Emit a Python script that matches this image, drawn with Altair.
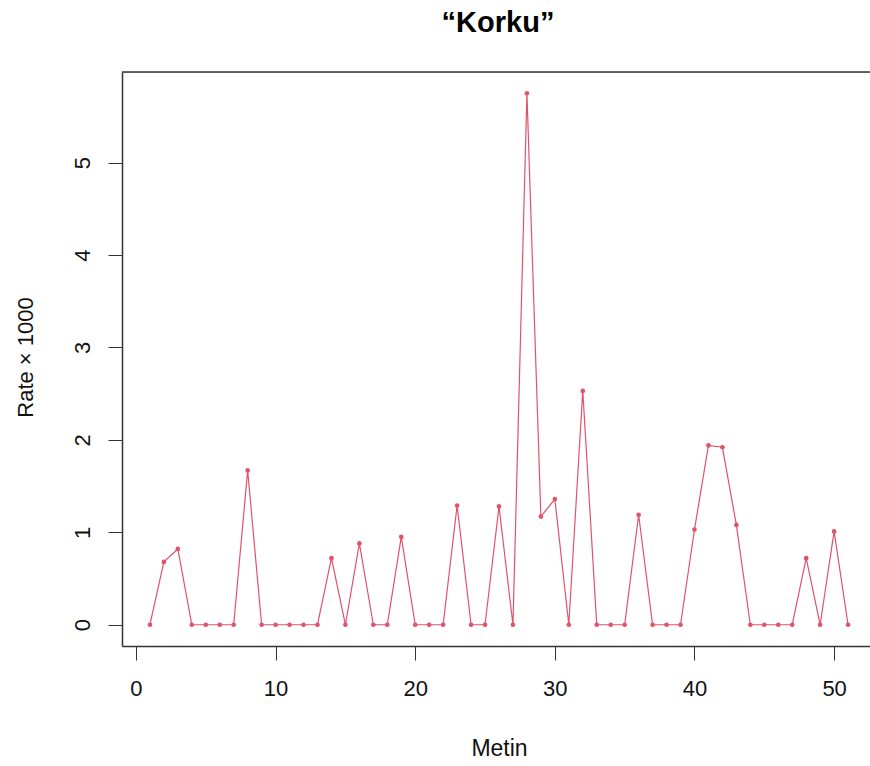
import altair as alt
import pandas as pd

# Data
metin = list(range(1, 52))
rate = [0, 0.68, 0.82, 0, 0, 0, 0, 1.67, 0, 0,
        0, 0, 0, 0.72, 0, 0.88, 0, 0, 0.95, 0,
        0, 0, 1.29, 0, 0, 1.28, 0, 5.75, 1.17, 1.36,
        0, 2.53, 0, 0, 0, 1.19, 0, 0, 0, 1.03,
        1.94, 1.92, 1.08, 0, 0, 0, 0, 0.72, 0, 1.01,
        0]
x_ticks = [0, 10, 20, 30, 40, 50]
y_ticks = [0, 1, 2, 3, 4, 5]

df = pd.DataFrame({"Metin": metin, "Rate": rate})

COLOR = "#DF536B"
AXC = "#333333"
FONT = "Liberation Sans"

W, H = 748, 574

xscale = alt.Scale(domain=[-1, 52.57], nice=False, zero=False)
yscale = alt.Scale(domain=[-0.23, 5.98], nice=False, zero=False)

xaxis = alt.Axis(
    values=x_ticks, title="Metin", grid=False, format="d",
    tickSize=14, tickColor=AXC, tickWidth=1,
    domainColor=AXC, domainWidth=1.5,
    labelFontSize=22, labelFont=FONT, labelColor="#111111",
    labelPadding=18, labelBaseline="top",
    titleFontSize=23, titleFont=FONT, titleFontWeight="normal", titleColor="#111111",
    titleX=377, titleY=109, titleBaseline="alphabetic", titleAlign="center",
)
yaxis = alt.Axis(
    values=y_ticks, title="Rate × 1000", grid=False, format="d",
    tickSize=14, tickColor=AXC, tickWidth=1,
    domainColor=AXC, domainWidth=1.5,
    labelFontSize=22, labelFont=FONT, labelColor="#111111",
    labelAngle=270, labelAlign="center", labelBaseline="alphabetic", labelPadding=19,
    titleFontSize=22, titleFont=FONT, titleFontWeight="normal", titleColor="#111111",
    titleAngle=270, titleX=-90, titleY=285, titleAlign="center", titleBaseline="alphabetic",
)

base = alt.Chart(df)
line = base.mark_line(color=COLOR, strokeWidth=1.2).encode(
    x=alt.X("Metin:Q", scale=xscale, axis=xaxis),
    y=alt.Y("Rate:Q", scale=yscale, axis=yaxis),
)
pts = base.mark_circle(color=COLOR, size=22, opacity=1).encode(
    x=alt.X("Metin:Q", scale=xscale),
    y=alt.Y("Rate:Q", scale=yscale),
)
top_border = alt.Chart(pd.DataFrame({"a": [0]})).mark_rule(
    color=AXC, strokeWidth=1.5
).encode(x=alt.value(0), x2=alt.value(W), y=alt.value(0))

chart = alt.layer(line, pts, top_border).properties(
    width=W, height=H,
    title=alt.TitleParams(
        text="“Korku”", font=FONT, fontSize=29, fontWeight="bold",
        color="#000000", anchor="middle", offset=10, baseline="alphabetic", dx=2,
    ),
    autosize=alt.AutoSizeParams(type="none"),
    padding={"left": 122, "top": 72, "right": 0, "bottom": 120},
).configure_view(stroke=None).configure(background="white")

chart.save("out.html", embed_options={"renderer": "svg", "actions": False})
